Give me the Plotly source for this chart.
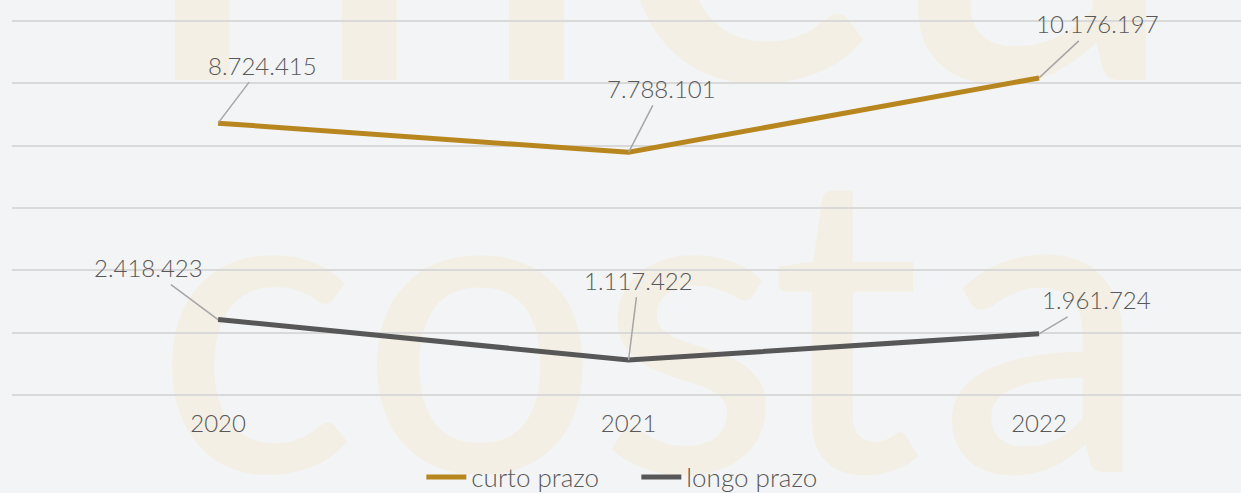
import base64
import plotly.graph_objects as go

years = ["2020", "2021", "2022"]
curto_prazo = [8724415, 7788101, 10176197]
longo_prazo = [2418423, 1117422, 1961724]
curto_labels = ["8.724.415", "7.788.101", "10.176.197"]
longo_labels = ["2.418.423", "1.117.422", "1.961.724"]

GOLD = "#b8861f"
DARK = "#575757"
TXT = "#595959"
BG = "#f3f4f6"
FONT = "Lato"

W, H = 1241, 493
ML, MR, MT, MB = 12, 0, 18, 95

xpos = list(range(len(years)))

# ---- decorative watermark (background logo letters) as an SVG image ----
wm = "#f3efe4"
svg = (
    f'<svg xmlns="http://www.w3.org/2000/svg" width="{W}" height="{H}" viewBox="0 0 {W} {H}">'
    f'<text x="368 742 1041" y="80" text-anchor="middle" font-family="Lato" '
    f'font-weight="500" font-size="560" fill="{wm}">mca</text>'
    f'<text x="256 480 690 846 1044" y="472" text-anchor="middle" font-family="Lato" '
    f'font-weight="500" font-size="420" fill="{wm}">costa</text>'
    '</svg>'
)
src = "data:image/svg+xml;base64," + base64.b64encode(svg.encode()).decode()

pw, ph = W - ML - MR, H - MT - MB

fig = go.Figure()

fig.add_trace(go.Scatter(
    x=xpos, y=curto_prazo, mode="lines", name="curto prazo",
    line=dict(color=GOLD, width=5),
))
fig.add_trace(go.Scatter(
    x=xpos, y=longo_prazo, mode="lines", name="longo prazo",
    line=dict(color=DARK, width=5),
))

curto_off = [(44, -58), (33, -64), (58, -54)]
longo_off = [(-70, -52), (10, -80), (57, -34)]

for i in range(len(years)):
    for vals, labs, offs in ((curto_prazo, curto_labels, curto_off),
                             (longo_prazo, longo_labels, longo_off)):
        ax, ay = offs[i]
        fig.add_annotation(
            x=xpos[i], y=vals[i], text=labs[i],
            showarrow=True, arrowhead=0, arrowwidth=1.5, arrowcolor="#a6a6a6",
            ax=ax, ay=ay, borderpad=2,
            font=dict(family=FONT, size=24, color=TXT, weight=300),
        )

fig.add_layout_image(dict(
    source=src, xref="paper", yref="paper",
    x=-ML / pw, y=1 + MT / ph, sizex=W / pw, sizey=H / ph,
    xanchor="left", yanchor="top", sizing="stretch", layer="below",
))

fig.update_layout(
    width=W, height=H,
    margin=dict(l=ML, r=MR, t=MT, b=MB, autoexpand=False),
    paper_bgcolor=BG, plot_bgcolor="rgba(0,0,0,0)",
    showlegend=True,
    legend=dict(orientation="h", x=0.508, xanchor="center",
                yref="container", y=(H - 477) / H, yanchor="middle",
                font=dict(family=FONT, size=26, color=TXT, weight=300),
                bgcolor="rgba(0,0,0,0)", itemwidth=40,
                entrywidth=160, entrywidthmode="pixels"),
    font=dict(family=FONT, color=TXT),
)
fig.update_xaxes(
    range=[-0.502, 2.492], tickvals=xpos, ticktext=years,
    showgrid=False, zeroline=False, showline=False, ticks="",
    ticklabelstandoff=9,
    tickfont=dict(family=FONT, size=24, color=TXT, weight=300),
)
fig.update_yaxes(
    range=[-0.1e6, 12.1e6], tickvals=[0, 2e6, 4e6, 6e6, 8e6, 10e6, 12e6],
    showgrid=True, gridcolor="#d9d9d9", gridwidth=1.5,
    zeroline=False, showticklabels=False, showline=False, ticks="",
)

fig.write_html(
    "out.html",
    config={"displayModeBar": False},
    post_script="document.body.style.margin='0';document.body.style.background='#f3f4f6';",
)
